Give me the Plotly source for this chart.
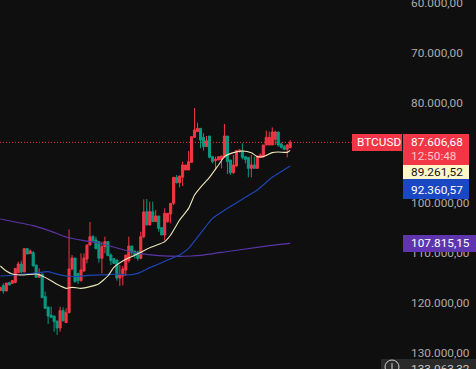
import plotly.graph_objects as go

# Prices in thousands
opens = [117.53,116.53,117.6,115.93,116.07,115.87,113.93,112.2,113.8,109.13,110.13,109.93,112.4,114.87,114.2,118.73,120.8,122.47,122.6,123.6,125.0,121.53,123.93,121.93,113.2,111.0,114.07,115.53,113.6,111.2,108.4,106.73,107.4,107.73,111.07,108.73,107.73,110.4,111.13,111.4,115.0,114.6,113.4,111.53,108.6,109.6,109.8,111.07,106.73,101.73,104.4,101.73,103.73,102.6,104.93,106.4,103.73,102.2,100.07,94.87,95.93,94.87,93.4,93.4,91.87,86.87,85.73,85.07,86.87,88.73,86.6,90.73,91.53,91.4,91.27,90.87,86.6,91.4,93.93,92.6,89.73,89.53,90.73,90.87,93.07,92.4,93.07,90.87,90.73,88.4,88.4,88.4,87.27,85.8,88.2,88.73,89.27,88.93]
highs = [117.53,118.13,117.6,116.4,116.2,116.07,113.93,114.07,113.8,110.2,110.2,112.6,114.87,114.87,118.93,121.07,124.2,122.87,125.73,126.4,125.73,123.73,123.93,122.07,113.4,115.93,116.2,115.73,113.73,112.07,108.4,107.73,109.27,111.93,114.07,110.07,110.6,112.4,112.2,115.53,116.6,116.47,114.6,111.93,110.73,111.07,111.53,111.27,107.07,104.4,104.4,103.73,103.73,105.73,106.4,107.53,103.93,104.07,100.4,96.07,96.87,96.6,93.4,93.4,91.87,86.87,85.73,89.07,89.53,88.73,91.07,92.07,93.4,91.4,93.07,90.87,94.2,94.4,94.2,92.73,89.93,91.27,92.07,94.87,94.87,93.07,93.07,90.87,90.87,88.4,88.4,88.4,88.4,88.73,89.07,89.27,90.87,89.07]
lows = [116.87,116.07,116.0,115.73,115.4,113.07,111.73,111.53,109.13,109.0,109.27,109.6,112.4,113.07,114.2,117.73,120.8,120.73,122.6,123.6,120.73,120.87,121.07,105.27,110.4,111.0,114.07,110.07,110.07,108.4,103.8,106.4,106.73,107.73,107.73,106.73,107.73,110.07,111.07,111.4,112.4,112.6,110.4,106.73,108.6,109.6,109.53,105.73,99.27,99.2,99.73,99.73,101.4,102.6,104.93,101.07,102.07,100.07,94.87,94.4,94.6,91.73,92.4,89.6,86.73,81.0,83.93,85.07,86.07,86.6,86.6,90.73,90.73,90.73,90.6,84.2,86.6,91.4,90.4,89.4,89.27,88.07,90.73,90.87,90.4,90.73,90.6,90.07,88.4,85.53,85.73,84.87,85.53,85.8,87.93,88.4,88.2,87.4]
closes = [116.87,117.6,116.0,116.4,115.53,113.07,112.2,113.8,109.13,110.2,109.6,112.6,114.87,114.2,118.93,121.07,122.6,122.87,123.73,125.0,121.53,123.53,121.93,113.2,111.0,115.73,115.53,113.4,111.0,108.4,106.73,107.53,109.13,111.07,108.73,107.73,110.53,111.53,112.07,115.0,114.4,113.2,110.4,108.6,109.87,110.4,111.07,106.73,101.8,104.4,101.73,103.73,102.6,105.07,106.4,102.07,102.07,100.07,94.87,95.93,94.6,92.4,92.4,91.73,86.73,85.4,85.07,87.4,88.73,87.53,90.87,91.73,91.27,90.73,90.6,86.6,91.73,93.93,92.4,89.53,89.4,90.87,91.27,93.07,92.4,93.07,90.6,90.4,88.4,86.87,86.87,85.8,85.8,88.4,88.87,89.27,88.4,87.87]

ema_short_idx = [0,2,4,8,12,14,17,19,22,24,27,30,33,36,38,42,45,47,50,53,55,57,60,63,65,67,70,73,75,78,81,84,86,88,91,93,96,97]
ema_short = [112.6,113.6,114.2,114.4,114.2,114.6,115.53,116.27,117.07,116.87,117.07,116.73,116.13,114.6,112.87,111.27,110.47,109.87,108.93,108.27,107.73,106.4,103.4,101.07,98.4,96.87,94.87,92.4,90.73,89.93,89.6,89.93,90.73,90.73,89.93,89.8,89.87,89.47]
ema_mid_idx = [0,5,11,16,18,22,26,29,36,39,42,46,48,50,53,56,60,63,67,71,76,82,86,91,97]
ema_mid = [114.6,114.4,114.07,113.73,114.07,114.6,114.73,114.47,114.33,114.2,114.4,114.07,113.53,112.93,112.2,111.4,110.4,109.07,106.07,103.07,101.07,98.87,97.4,94.87,92.6]
ema_long_idx = [0,5,11,17,22,28,33,39,45,47,53,60,64,67,75,82,90,97]
ema_long = [103.2,103.8,104.53,105.67,106.8,107.53,108.0,109.0,109.93,110.13,110.53,110.67,110.6,110.47,109.8,109.2,108.53,108.07]

tick_vals = [60000,70000,80000,100000,110000,120000,130000]
tick_text = ["60.000,00","70.000,00","80.000,00","100.000,00","110.000,00","120.000,00","130.000,00"]

RED, GREEN, BG = "#F23645", "#089981", "#0F0F0F"
W, H, PW = 476, 369, 410
k = lambda a: [v * 1000 for v in a]
px = lambda v: v / PW
py = lambda v: 1 - v / H

fig = go.Figure()
fig.add_trace(go.Scatter(x=ema_long_idx, y=k(ema_long), mode="lines", line=dict(color="#5B34A8", width=1.2, shape="spline", smoothing=0.5), hoverinfo="skip"))
fig.add_trace(go.Scatter(x=ema_mid_idx, y=k(ema_mid), mode="lines", line=dict(color="#1C46B8", width=1.2, shape="spline", smoothing=0.5), hoverinfo="skip"))
fig.add_trace(go.Candlestick(x=list(range(len(opens))), open=k(opens), high=k(highs), low=k(lows), close=k(closes),
    increasing=dict(line=dict(color=GREEN, width=1), fillcolor=GREEN),
    decreasing=dict(line=dict(color=RED, width=1), fillcolor=RED),
    whiskerwidth=0, hoverinfo="skip"))
fig.add_trace(go.Scatter(x=ema_short_idx, y=k(ema_short), mode="lines", line=dict(color="#EDE7B8", width=1.1, shape="spline", smoothing=0.5), hoverinfo="skip"))

def box(x0, y0, x1, y1, color):
    return dict(type="rect", xref="paper", yref="paper", x0=px(x0), x1=px(x1), y0=py(y0), y1=py(y1), fillcolor=color, line_width=0, layer="above")

shapes = [
    dict(type="line", xref="paper", yref="y", x0=0, x1=px(352), y0=closes[-1]*1000, y1=closes[-1]*1000, line=dict(color=RED, width=1, dash="1px,2px"), layer="above"),
    box(352,134,402,151,RED), box(403,134,469,165,RED), box(403,165,469,179,"#FFF7C8"),
    box(403,179,469,199,"#1A47C4"), box(403,235,476,252,"#5E35AE"), box(381,359,476,369,"#2A2A2A"),
    dict(type="circle", xref="paper", yref="paper", x0=px(385), x1=px(399), y0=py(374), y1=py(360), line=dict(color="#D0D0D0", width=1), layer="above"),
    dict(type="line", xref="paper", yref="paper", x0=px(392), x1=px(392), y0=py(363), y1=py(369), line=dict(color="#D0D0D0", width=1), layer="above"),
]

def lab(x, y, text, color, size=11.8):
    return dict(xref="paper", yref="paper", x=px(x), y=py(y), text=text, showarrow=False, xanchor="left", yanchor="middle", borderpad=0, font=dict(color=color, size=size, family="Roboto"))

annotations = [
    lab(355.5,142,"BTCUSD","#FFFFFF"), lab(410,142,"87.606,68","#FFFFFF"), lab(410,156,"12:50:48","#FFC4CA"),
    lab(410,172,"89.261,52","#111111"), lab(410,190,"92.360,57","#FFFFFF"), lab(410,243,"107.815,15","#FFFFFF"),
    lab(410,369,"133.063,32","#C8C8C8"),
]

fig.update_layout(width=W, height=H, margin=dict(l=0, r=W-PW, t=0, b=0, autoexpand=False), paper_bgcolor=BG, plot_bgcolor=BG,
    showlegend=False, boxgap=0, shapes=shapes, annotations=annotations, font=dict(family="Roboto"),
    xaxis=dict(range=[-0.11,137.1], visible=False, rangeslider=dict(visible=False), fixedrange=True),
    yaxis=dict(range=[133200,59400], side="right", tickmode="array", tickvals=tick_vals, ticktext=tick_text, automargin=False,
               showgrid=False, zeroline=False, showline=False, ticks="", fixedrange=True, ticklabeloverflow="allow",
               tickfont=dict(color="#ABABAB", size=11.8, family="Roboto")))

fig.write_html("out.html", config=dict(displayModeBar=False), post_script="document.body.style.margin='0';")
